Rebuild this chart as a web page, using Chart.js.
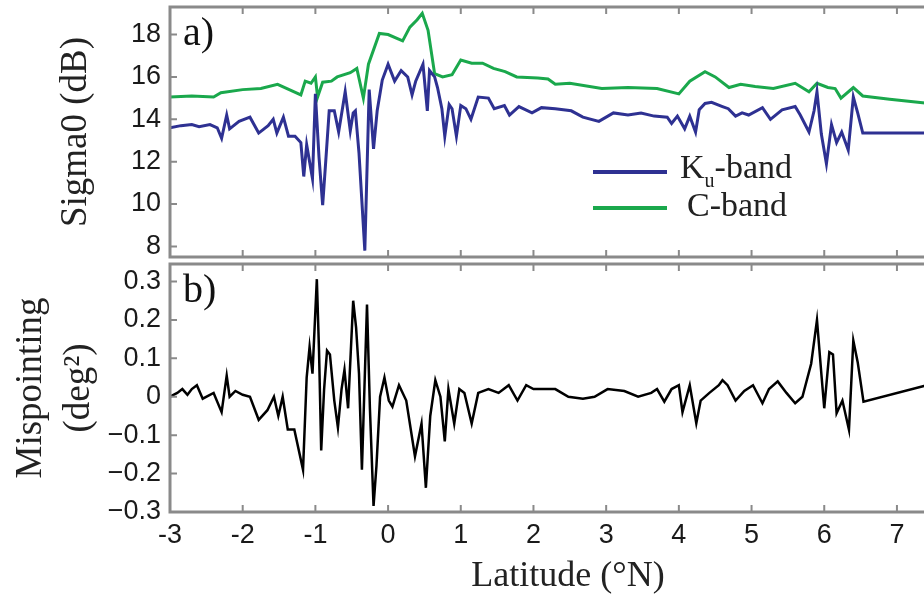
<!DOCTYPE html>
<html>
<head>
<meta charset="utf-8">
<script src="https://cdn.jsdelivr.net/npm/chart.js@4.4.1/dist/chart.umd.min.js"></script>
<style>
  body { margin: 0; background: #fff; overflow: hidden; width: 924px; height: 595px; position: relative; }
  canvas { position: absolute; left: 0; }
  #sigmaChart { top: 0; }
  #mispChart { top: 258px; }
</style>
</head>
<body>
<canvas id="sigmaChart" width="1000" height="260"></canvas>
<canvas id="mispChart" width="1000" height="337"></canvas>
<script>
// tick labels
const latTicks = [-3, -2, -1, 0, 1, 2, 3, 4, 5, 6, 7];
const sigmaTicks = [8, 10, 12, 14, 16, 18];
const mispTicks = [-0.3, -0.2, -0.1, 0, 0.1, 0.2, 0.3];

// Ku-band sigma0 (dB)
const kuLat = [-3.0, -2.85, -2.7, -2.6, -2.45, -2.35, -2.29, -2.22, -2.18, -2.05, -1.9, -1.78, -1.65, -1.58, -1.53,
  -1.44, -1.37, -1.28, -1.2, -1.16, -1.12, -1.04, -1.0, -0.95, -0.9, -0.86, -0.81, -0.74, -0.68, -0.59, -0.52,
  -0.48, -0.45, -0.4, -0.32, -0.26, -0.2, -0.15, -0.08, 0.0, 0.09, 0.18, 0.27, 0.33, 0.38, 0.48, 0.54, 0.57,
  0.64, 0.68, 0.74, 0.78, 0.84, 0.88, 0.94, 1.0, 1.07, 1.14, 1.24, 1.38, 1.46, 1.6, 1.67, 1.8, 1.98, 2.11,
  2.3, 2.52, 2.68, 2.9, 3.1, 3.3, 3.48, 3.66, 3.84, 3.9, 3.98, 4.08, 4.15, 4.23, 4.28, 4.36, 4.45, 4.6, 4.68,
  4.78, 4.87, 4.96, 5.15, 5.26, 5.42, 5.6, 5.67, 5.79, 5.86, 5.9, 5.96, 6.03, 6.1, 6.17, 6.24, 6.33, 6.4,
  6.46, 6.53, 8.0];
const kuSigma = [13.6, 13.7, 13.75, 13.65, 13.75, 13.6, 13.1, 14.2, 13.55, 13.9, 14.1, 13.35, 13.7, 14.0, 13.35,
  14.1, 13.2, 13.2, 12.9, 11.3, 12.8, 11.2, 15.2, 12.2, 9.95, 11.9, 14.4, 14.4, 13.4, 15.3, 13.45,
  14.3, 14.4, 12.4, 7.8, 15.4, 12.6, 14.4, 15.85, 16.6, 15.8, 16.3, 16.0, 15.15, 15.8, 16.6, 14.4, 16.3,
  16.0, 15.5, 14.5, 13.2, 14.7, 14.5, 13.2, 14.65, 14.5, 14.0, 15.05, 15.0, 14.5, 14.65, 14.2, 14.6, 14.3, 14.55,
  14.5, 14.4, 14.1, 13.9, 14.3, 14.2, 14.3, 14.15, 14.1, 13.8, 14.15, 13.55, 14.15, 13.4, 14.45, 14.75, 14.8, 14.6, 14.5,
  14.15, 14.3, 14.2, 14.55, 14.0, 14.45, 14.6, 14.2, 13.4, 14.4, 15.3, 13.3, 11.9, 13.75, 12.9, 13.4, 12.55, 15.05,
  14.3, 13.35, 13.35];

// C-band sigma0 (dB)
const cLat = [-3.0, -2.7, -2.4, -2.3, -2.0, -1.75, -1.52, -1.36, -1.2, -1.14, -1.06, -1.0, -0.97, -0.9, -0.78,
  -0.7, -0.52, -0.43, -0.34, -0.27, -0.12, 0.0, 0.2, 0.3, 0.4, 0.47, 0.55, 0.64, 0.75, 0.88, 1.0, 1.15, 1.3,
  1.45, 1.61, 1.77, 2.06, 2.2, 2.3, 2.5, 2.94, 3.3, 3.7, 4.0, 4.15, 4.36, 4.5, 4.69, 4.85, 5.05, 5.3, 5.6,
  5.79, 5.9, 6.05, 6.15, 6.23, 6.4, 6.53, 6.9, 7.45, 8.0];
const cSigma = [15.05, 15.1, 15.05, 15.25, 15.4, 15.45, 15.65, 15.4, 15.15, 15.8, 15.7, 16.0, 15.05, 15.75, 15.8,
  16.0, 16.2, 16.4, 15.0, 16.6, 18.05, 18.0, 17.7, 18.35, 18.7, 19.0, 18.2, 16.15, 16.0, 16.1, 16.8, 16.65, 16.65,
  16.4, 16.25, 16.0, 15.95, 15.9, 15.65, 15.7, 15.45, 15.5, 15.45, 15.2, 15.8, 16.25, 16.0, 15.5, 15.65, 15.55, 15.45, 15.7,
  15.3, 15.7, 15.5, 15.45, 15.0, 15.5, 15.1, 14.95, 14.75, 14.65];

// mispointing (deg^2)
const mispLat = [-3.0, -2.9, -2.83, -2.76, -2.7, -2.63, -2.55, -2.4, -2.29, -2.22, -2.18, -2.1, -2.0, -1.9, -1.78,
  -1.66, -1.57, -1.51, -1.45, -1.38, -1.29, -1.17, -1.12, -1.08, -1.04, -0.98, -0.95, -0.92, -0.88, -0.84, -0.8,
  -0.74, -0.69, -0.64, -0.6, -0.55, -0.48, -0.44, -0.4, -0.36, -0.29, -0.25, -0.2, -0.16, -0.11, -0.05, 0.01,
  0.06, 0.15, 0.25, 0.37, 0.46, 0.52, 0.58, 0.65, 0.72, 0.78, 0.83, 0.91, 0.98, 1.05, 1.15, 1.24, 1.38, 1.52,
  1.66, 1.78, 1.9, 2.0, 2.11, 2.3, 2.48, 2.68, 2.84, 3.02, 3.25, 3.44, 3.62, 3.7, 3.8, 3.9, 4.0, 4.05, 4.15,
  4.24, 4.3, 4.42, 4.55, 4.6, 4.67, 4.78, 4.9, 5.02, 5.15, 5.24, 5.36, 5.48, 5.6, 5.7, 5.82, 5.9, 5.96, 6.0,
  6.07, 6.12, 6.17, 6.25, 6.34, 6.4, 6.46, 6.54, 7.41, 8.0];
const mispVal = [0.0, 0.01, 0.02, 0.005, 0.02, 0.03, -0.005, 0.01, -0.04, 0.055, 0.0, 0.015, 0.005, 0.0, -0.06,
  -0.035, 0.0, -0.05, 0.0, -0.085, -0.085, -0.19, 0.05, 0.13, 0.06, 0.306, 0.12, -0.14, 0.02, 0.12, 0.11,
  -0.01, -0.08, 0.02, 0.07, -0.03, 0.25, 0.18, 0.06, -0.19, 0.24, -0.03, -0.284, -0.18, 0.0, 0.05, -0.01,
  -0.026, 0.03, -0.01, -0.155, -0.07, -0.237, -0.05, 0.043, 0.0, -0.116, 0.02, -0.07, 0.02, 0.01, -0.07, 0.01, 0.02, 0.01,
  0.03, -0.01, 0.03, 0.02, 0.02, 0.02, 0.0, -0.005, 0.0, 0.02, 0.015, 0.0, 0.01, 0.02, -0.013, 0.02, 0.03, -0.04, 0.03,
  -0.069, -0.01, 0.01, 0.03, 0.043, 0.03, -0.01, 0.015, 0.03, -0.017, 0.02, 0.04, 0.01, -0.017, 0.0, 0.086, 0.2, 0.06, -0.03,
  0.116, 0.11, -0.043, -0.01, -0.086, 0.146, 0.09, -0.013, 0.03, 0.035];

const kuColor = '#2e3192';
const cColor = '#1aa84c';
const frameColor = '#8a8a8a';
const serif = '"Liberation Serif", "Times New Roman", serif';
const sans = '"Liberation Sans", Arial, sans-serif';

const zip = (xs, ys) => xs.map((x, i) => ({x: x, y: ys[i]}));

// gray box with inward tick marks
const framePlugin = {
  id: 'frame',
  afterDatasetsDraw(chart) {
    const {ctx, chartArea: a, scales} = chart;
    const x = scales.x, y = scales.y;
    ctx.save();
    ctx.strokeStyle = frameColor;
    ctx.lineWidth = 3;
    ctx.beginPath();
    ctx.moveTo(a.right, a.top);
    ctx.lineTo(a.left, a.top);
    ctx.lineTo(a.left, a.bottom);
    ctx.lineTo(a.right, a.bottom);
    ctx.stroke();
    ctx.lineWidth = 2;
    ctx.beginPath();
    latTicks.forEach(v => {
      const px = x.getPixelForValue(v);
      ctx.moveTo(px, a.top); ctx.lineTo(px, a.top + 7);
      ctx.moveTo(px, a.bottom); ctx.lineTo(px, a.bottom - 7);
    });
    chart.options.yTickList.forEach(v => {
      const py = y.getPixelForValue(v);
      if (py > a.bottom + 1) return;
      ctx.moveTo(a.left, py); ctx.lineTo(a.left + 7, py);
    });
    ctx.stroke();
    ctx.restore();
  }
};

const panelLabel = {
  id: 'panelLabel',
  afterDraw(chart) {
    const {ctx, chartArea: a} = chart;
    ctx.save();
    ctx.fillStyle = '#111';
    ctx.font = '40px ' + serif;
    ctx.textBaseline = 'alphabetic';
    ctx.fillText(chart.options.panelText, a.left + 13, a.top + 38);
    ctx.restore();
  }
};

const bandLegend = {
  id: 'bandLegend',
  afterDraw(chart) {
    const {ctx, chartArea: a} = chart;
    const x0 = a.left + 423, x1 = a.left + 497;
    ctx.save();
    ctx.lineWidth = 4;
    ctx.strokeStyle = kuColor;
    ctx.beginPath(); ctx.moveTo(x0, a.top + 165); ctx.lineTo(x1, a.top + 165); ctx.stroke();
    ctx.strokeStyle = cColor;
    ctx.beginPath(); ctx.moveTo(x0, a.top + 201); ctx.lineTo(x1, a.top + 201); ctx.stroke();
    ctx.fillStyle = '#222';
    ctx.textBaseline = 'alphabetic';
    ctx.font = '34px ' + serif;
    let tx = a.left + 510;
    ctx.fillText('K', tx, a.top + 171);
    tx += ctx.measureText('K').width;
    ctx.font = '20px ' + serif;
    ctx.fillText('u', tx, a.top + 180);
    tx += ctx.measureText('u').width;
    ctx.font = '34px ' + serif;
    ctx.fillText('-band', tx, a.top + 171);
    ctx.fillText('C-band', a.left + 517, a.top + 209);
    ctx.restore();
  }
};

const yTickLabel = v => (v < 0 ? '\u2212' + Math.abs(v) : String(v));

function yAxis(min, max, ticks, title, titlePad) {
  return {
    min: min, max: max,
    afterBuildTicks: axis => { axis.ticks = ticks.map(v => ({value: v})); },
    afterFit: axis => { axis.width = 170; axis.paddingTop = 0; axis.paddingBottom = 0; },
    grid: {display: false, drawTicks: false},
    border: {display: false},
    ticks: {font: {family: sans, size: 27}, color: '#1a1a1a', padding: 9, callback: yTickLabel},
    title: {display: true, text: title, color: '#222', padding: {top: titlePad, bottom: 0},
      font: {family: serif, size: 37, lineHeight: 1.3}}
  };
}

const xMin = -3, xMax = 7.95;

new Chart(document.getElementById('sigmaChart'), {
  type: 'line',
  data: {
    datasets: [
      {label: 'Ku-band', data: zip(kuLat, kuSigma), borderColor: kuColor, borderWidth: 3},
      {label: 'C-band', data: zip(cLat, cSigma), borderColor: cColor, borderWidth: 3}
    ]
  },
  options: {
    responsive: false, animation: false, devicePixelRatio: 1,
    layout: {autoPadding: false, padding: {left: 0, right: 34, top: 7, bottom: 3}},
    elements: {point: {radius: 0}, line: {tension: 0}},
    plugins: {legend: {display: false}, tooltip: {enabled: false}},
    panelText: 'a)',
    yTickList: sigmaTicks,
    scales: {
      x: {type: 'linear', min: xMin, max: xMax, display: false},
      y: yAxis(7.5, 19.3, sigmaTicks, 'Sigma0 (dB)', 52)
    }
  },
  plugins: [framePlugin, panelLabel, bandLegend]
});

new Chart(document.getElementById('mispChart'), {
  type: 'line',
  data: {
    datasets: [
      {label: 'Mispointing', data: zip(mispLat, mispVal), borderColor: '#000', borderWidth: 2.5}
    ]
  },
  options: {
    responsive: false, animation: false, devicePixelRatio: 1,
    layout: {autoPadding: false, padding: {left: 0, right: 34, top: 6, bottom: 0}},
    elements: {point: {radius: 0}, line: {tension: 0}},
    plugins: {legend: {display: false}, tooltip: {enabled: false}},
    panelText: 'b)',
    yTickList: mispTicks,
    scales: {
      x: {
        type: 'linear', min: xMin, max: xMax,
        afterBuildTicks: axis => { axis.ticks = latTicks.map(v => ({value: v})); },
        afterFit: axis => { axis.height = 83; axis.paddingLeft = 0; axis.paddingRight = 0; },
        grid: {display: false, drawTicks: false},
        border: {display: false},
        ticks: {font: {family: sans, size: 27}, color: '#1a1a1a', padding: 7, autoSkip: false, maxRotation: 0},
        title: {display: true, text: 'Latitude (\u00b0N)', color: '#222', padding: {top: 0, bottom: 0},
          font: {family: serif, size: 36, lineHeight: 1.0}}
      },
      y: yAxis(-0.3, 0.3455, mispTicks, ['Mispointing', '(deg\u00b2)'], 7)
    }
  },
  plugins: [framePlugin, panelLabel]
});
</script>
</body>
</html>
